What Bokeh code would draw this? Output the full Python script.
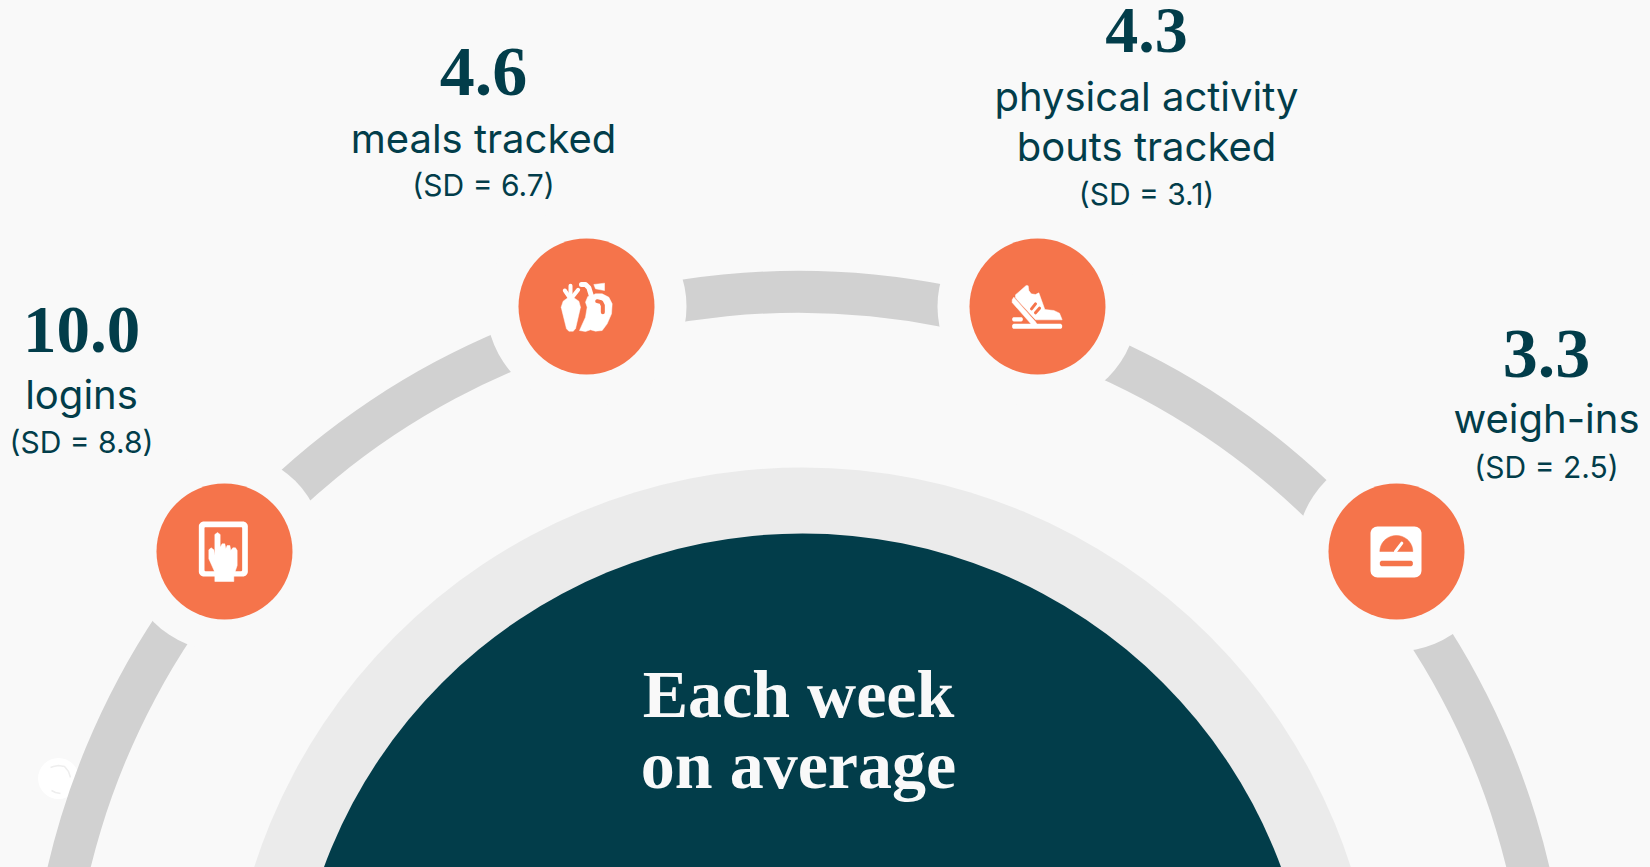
import math
from bokeh.plotting import figure
from bokeh.models import Range1d
from bokeh.core.properties import value
from bokeh.embed import file_html
from bokeh.resources import INLINE

# ---- content
measures = ["logins", "meals tracked", "physical activity bouts tracked", "weigh-ins"]
means = [10.0, 4.6, 4.3, 3.3]
sds = [8.8, 6.7, 3.1, 2.5]
label_lines = [["logins"], ["meals tracked"], ["physical activity", "bouts tracked"], ["weigh-ins"]]
title_lines = ["Each week", "on average"]

# ---- style
BG, BAND, RING, DARK, ORANGE = "#f9f9f9", "#d1d1d1", "#ebebeb", "#023d4a", "#f5744b"
SERIF, SANS = "Liberation Serif", "Inter"

W, H = 1650, 867
p = figure(width=W, height=H, x_range=Range1d(0, W), y_range=Range1d(H, 0),
           output_backend="svg", toolbar_location=None, min_border=0,
           background_fill_color=BG, border_fill_color=BG, outline_line_color=None)
p.axis.visible = False
p.grid.visible = False

# ---- watermark behind band
p.circle([58], [778], radius=20.5, fill_color="#ffffff", line_color=None)
p.multi_line([[50, 53, 58, 64, 68, 70], [51, 55, 60]], [[767, 766, 765, 766, 771, 777], [790, 792, 793]],
             line_color="#eeeeee", line_width=1.5)

# ---- arcs and discs
CX, CY = 798, 1041
p.annulus([CX], [CY], inner_radius=729, outer_radius=771, fill_color=BAND, line_color=None)
p.circle([802], [1043], radius=576, fill_color=RING, line_color=None)
p.circle([802], [1043], radius=510, fill_color=DARK, line_color=None)

centers_x = [224, 586, 1037, 1396]
centers_y = [551, 306, 306, 551]
p.circle(centers_x, centers_y, radius=100, fill_color=BG, line_color=None)
p.circle(centers_x, centers_y, radius=68, fill_color=ORANGE, line_color=None)

# ---- icon helpers
def rrect(x0, y0, x1, y1, r):
    xs, ys = [], []
    for cx, cy, a0 in [(x1 - r, y0 + r, -90), (x1 - r, y1 - r, 0), (x0 + r, y1 - r, 90), (x0 + r, y0 + r, 180)]:
        for k in range(9):
            a = math.radians(a0 + k * 90 / 8)
            xs.append(cx + r * math.cos(a)); ys.append(cy + r * math.sin(a))
    return xs, ys

def shape(pts, ox, oy, color="#ffffff"):
    p.patch([ox + a / 3 for a, _ in pts], [oy + b / 3 for _, b in pts], fill_color=color, line_color=color, line_width=0.5)

def stroke(pts, ox, oy, w, color="#ffffff"):
    p.line([ox + a / 3 for a, _ in pts], [oy + b / 3 for _, b in pts], line_color=color, line_width=w, line_cap="round", line_join="round")

def box(x0, y0, x1, y1, r, ox, oy, color="#ffffff"):
    xs, ys = rrect(ox + x0 / 3, oy + y0 / 3, ox + x1 / 3, oy + y1 / 3, r)
    p.patch(xs, ys, fill_color=color, line_color=None)

# logins
ox, oy = 170, 500
box(85, 63, 232, 228, 5, ox, oy)
box(102, 80, 215, 212, 1, ox, oy, ORANGE)
shape([(133, 243), (133, 215), (115, 175), (115, 148), (122, 142), (130, 148), (133, 165), (133, 102), (141, 96),
       (149, 102), (149, 140), (155, 130), (163, 130), (166, 145), (170, 135), (178, 135), (181, 150), (187, 142),
       (195, 142), (200, 150), (200, 195), (190, 225), (190, 243)], ox, oy)

# meals
ox, oy = 530, 260
shape([(92, 140), (98, 122), (112, 112), (130, 112), (145, 122), (150, 140), (135, 205), (128, 212), (115, 212), (108, 205)], ox, oy)
stroke([(120, 112), (120, 76)], ox, oy, 4)
stroke([(118, 112), (103, 90)], ox, oy, 4)
stroke([(124, 112), (143, 88)], ox, oy, 4)
shape([(172, 108), (165, 125), (170, 140), (165, 170), (147, 210), (165, 213), (180, 208), (195, 212), (215, 210), (230, 190),
       (243, 160), (245, 130), (235, 110), (215, 100), (195, 100), (185, 105)], ox, oy)
stroke([(153, 72), (165, 72), (175, 82), (182, 104)], ox, oy, 5)
shape([(190, 72), (222, 68), (222, 90), (195, 85)], ox, oy)
stroke([(200, 122), (212, 125), (217, 135), (217, 155)], ox, oy, 4, ORANGE)

# physical activity
ox, oy = 985, 260
shape([(90, 103), (122, 75), (128, 76), (130, 90), (137, 100), (150, 102), (160, 97), (178, 147), (205, 150), (222, 158),
       (230, 178), (150, 178), (90, 112)], ox, oy)
stroke([(138, 145), (150, 130)], ox, oy, 3, ORANGE)
stroke([(150, 157), (162, 143)], ox, oy, 3, ORANGE)
shape([(80, 118), (85, 110), (150, 184), (155, 192), (138, 192), (80, 126)], ox, oy)
box(80, 190, 230, 205, 2, ox, oy)
box(80, 170, 112, 183, 2, ox, oy)

# weigh-ins
ox, oy = 1340, 500
box(90, 78, 243, 231, 7, ox, oy)
dial = [(217 - 99 * (1 - math.cos(math.radians(a))) / 2, 153 - 48 * math.sin(math.radians(a))) for a in range(0, 181, 10)]
shape(dial, ox, oy, ORANGE)
stroke([(165, 153), (184, 128)], ox, oy, 3)
box(118, 181, 217, 197, 2, ox, oy, ORANGE)

# ---- texts (baseline drop seen in the svg output is corrected per font)
DROP = {SERIF: 0.355, SANS: 0.385}

def txt(x, y, s, size, font, color, weight="normal"):
    p.text([x], [y - DROP[font] * size], text=[s], text_font=value(font), text_font_size=f"{size}px", text_color=color,
           text_align="center", text_baseline="alphabetic", text_font_style=weight)

txt_x = [81, 483, 1146, 1546]
num_y = [353, 96, 53, 378]
num_size = [67, 70, 66, 70]
sd_y = [453, 196, 205, 478]
first_y = [409, 153, 111, 433]
LINE = 50

for i, lines in enumerate(label_lines):
    txt(txt_x[i], num_y[i], f"{means[i]:.1f}", num_size[i], SERIF, DARK, "bold")
    for j, s in enumerate(lines):
        txt(txt_x[i], first_y[i] + j * LINE, s, 40, SANS, DARK)
    txt(txt_x[i], sd_y[i], f"(SD = {sds[i]})", 30, SANS, DARK)

txt(798, 718, title_lines[0], 68, SERIF, BG, "bold")
txt(798, 789, title_lines[1], 68, SERIF, BG, "bold")

html = file_html(p, INLINE)
html = html.replace("</head>", f"<style>html,body{{background:{BG};}}</style></head>", 1)
open("out.html", "w").write(html)
